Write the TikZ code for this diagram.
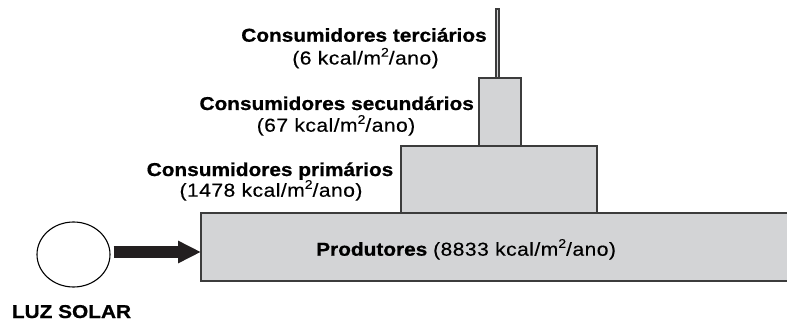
\documentclass[tikz,border=0pt]{standalone}
\usepackage{fontspec}
\setmainfont{Liberation Sans}[FakeStretch=1.12, BoldFeatures={FakeBold=0.8}]
\newfontfamily\valfont{Liberation Sans}[FakeStretch=1.12, LetterSpace=2.5, FakeBold=0.3]
\usetikzlibrary{arrows.meta, shapes.geometric}

\definecolor{levelgray}{RGB}{211,212,214}
\definecolor{edgegray}{RGB}{60,60,60}
\definecolor{arrowblack}{RGB}{35,31,32}

\newcommand{\persq}{/m\raisebox{0.42em}{\fontsize{12.5}{12.5}\selectfont 2}/ano}

\tikzset{
  level/.style={rectangle, draw=edgegray, line width=1.4pt, fill=levelgray, inner sep=0pt, outer sep=0pt},
  levelname/.style={font=\fontsize{18.6}{20}\selectfont\bfseries, anchor=base, inner sep=0pt},
  levelvalue/.style={font=\fontsize{18.8}{20}\selectfont\valfont, anchor=base, inner sep=0pt},
}

\begin{document}
\begin{tikzpicture}[x=1pt, y=1pt]
\useasboundingbox (0,0) rectangle (787,322);

% Pyramid
\node[level, minimum width=590pt, minimum height=68pt] (prod) at (496, 75) {};
\node[level, minimum width=196pt, minimum height=67pt] (prim) at (499, 142.5) {};
\node[level, minimum width=42pt, minimum height=68pt] (sec) at (500, 210) {};
\node[level, line width=1.2pt, minimum width=3pt, minimum height=69pt] (terc) at (497.5, 278.5) {};

% Labels
\node[levelname] (tercName) at (364, 280.3) {Consumidores terciários};
\node[levelvalue] (tercVal) at (365.5, 257.5) {(6 kcal\persq)};

\node[levelname] (secName) at (336.7, 212) {Consumidores secundários};
\node[levelvalue] (secVal) at (336, 190.3) {(67 kcal\persq)};

\node[levelname] (primName) at (270, 146) {Consumidores primários};
\node[levelvalue] (primVal) at (271, 125.3) {(1478 kcal\persq)};

\node[anchor=base west, inner sep=0pt] (prodText) at (316, 66.3)
  {\fontsize{18.6}{20}\selectfont\textbf{Produtores} {\fontsize{18.8}{20}\valfont(8833 kcal\persq)}};

% Sun
\node[draw, ellipse, line width=1.1pt, minimum width=73pt, minimum height=65pt, inner sep=0pt] (sun) at (73.5, 67.5) {};
\node[levelname] (sunName) at (71.5, 4) {LUZ SOLAR};

% Light
\draw[-{Triangle[length=23pt, width=21pt]}, line width=11.7pt, arrowblack]
  ([xshift=3pt, yshift=2.5pt]sun.east) coordinate (rayStart) -- (rayStart -| prod.west);

\end{tikzpicture}
\end{document}
